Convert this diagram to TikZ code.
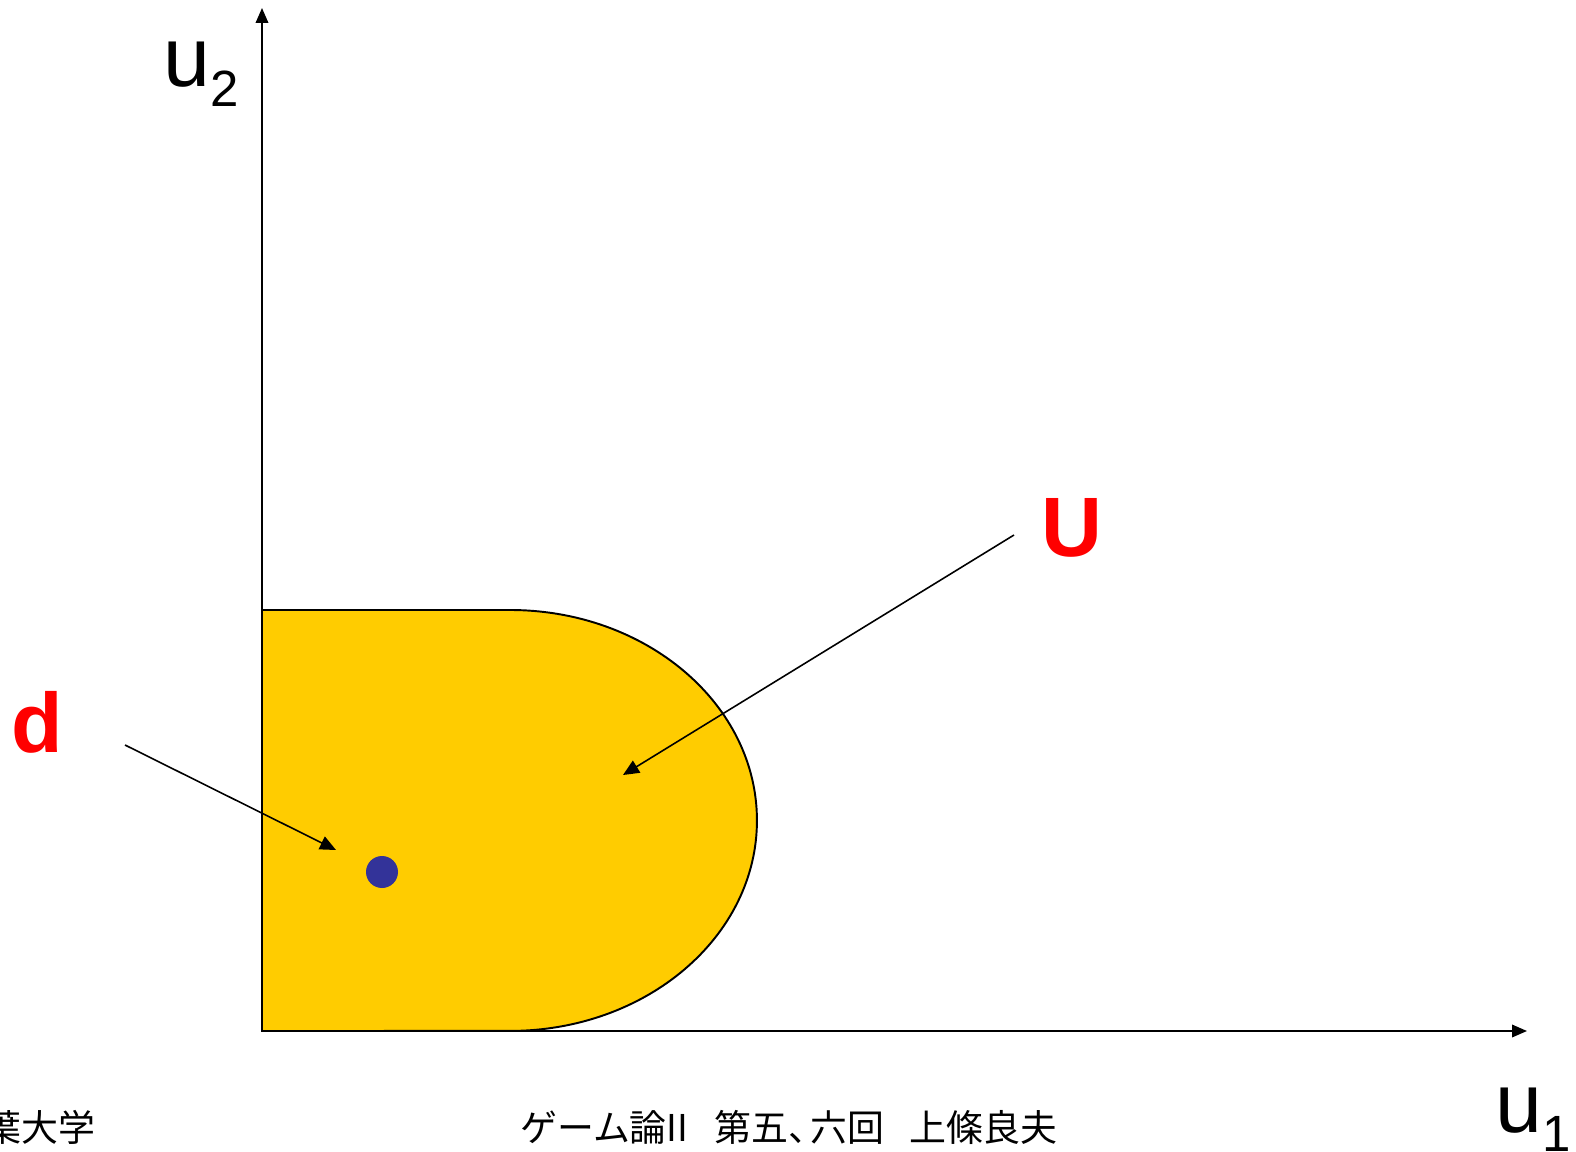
\documentclass[tikz,border=0pt]{standalone}
\usepackage{fontspec}
\setmainfont{Liberation Sans}
\newfontfamily\jpfont{Noto Sans CJK JP}
\usetikzlibrary{arrows.meta,positioning}
\definecolor{regionGold}{HTML}{FFCC00}
\definecolor{pointBlue}{HTML}{333399}
\definecolor{labelRed}{HTML}{FF0000}

\begin{document}
\begin{tikzpicture}[
  x=0.02cm,y=-0.02cm,
  axis/.style={-{Triangle[length=3mm,width=2.5mm]},line width=1.1pt},
  pointer/.style={-{Triangle[length=3.2mm,width=2.8mm]},line width=0.9pt},
  region/.style={fill=regionGold,draw=black,line width=1.1pt},
  dot/.style={circle,fill=pointBlue,inner sep=0pt,minimum size=0.64cm},
  setlabel/.style={text=labelRed,font=\fontsize{48}{48}\selectfont\bfseries,inner sep=0pt},
  axlabel/.style={font=\fontsize{48}{48}\selectfont,inner sep=0pt},
  footer/.style={font=\jpfont\fontsize{21}{21}\selectfont,inner sep=0pt}
]
\useasboundingbox (0,0) rectangle (1576,1152);
% feasible set
\filldraw[region] (262,1031) -- (262,610) -- (510,610)
  arc[start angle=90,end angle=-90,x radius=4.94cm,y radius=4.21cm] -- cycle;
% axes
\coordinate (O) at (262,1031);
\coordinate (ytop) at (262,8);
\coordinate (xend) at (1527,1031);
\draw[axis] (O) -- (ytop);
\draw[axis] (O) -- (xend);
\node[axlabel,anchor=base west] (u2) at (163,87) {u\raisebox{-11.3pt}{\fontsize{29}{29}\selectfont 2}};
\node[axlabel,anchor=base west] (u1) at (1495,1132) {u\raisebox{-11.3pt}{\fontsize{29}{29}\selectfont 1}};
% disagreement point
\node[dot] (dpt) at (382,872) {};
\node[setlabel,anchor=base west] (d) at (11,752) {d};
\coordinate (dtail) at (125,745);
\coordinate (dhead) at (336,850);
\draw[pointer] (dtail) -- (dhead);
% set label
\node[setlabel,anchor=base west] (U) at (1041,556) {U};
\coordinate (Utail) at (1014,535);
\coordinate (Uhead) at (623,775);
\draw[pointer] (Utail) -- (Uhead);
% footer
\node[footer,anchor=base east] (uni) at (96,1141) {千葉大学};
\node[footer,anchor=base west] (title) at (520,1141) {ゲーム論II\hspace{0.7em}第五、\kern-0.4em六回\hspace{0.7em}上條良夫};
\end{tikzpicture}
\end{document}
